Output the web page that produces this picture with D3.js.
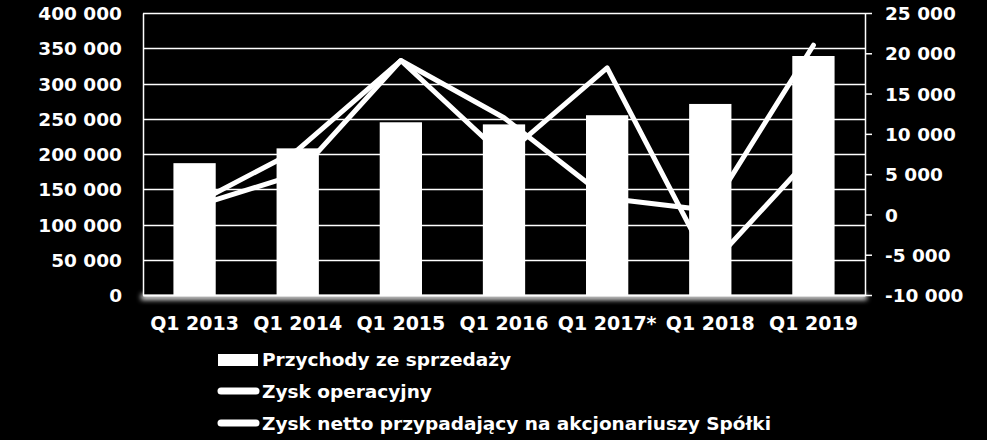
<!DOCTYPE html>
<html>
<head>
<meta charset="utf-8">
<script src="https://cdn.jsdelivr.net/npm/d3@7"></script>
<style>
  html, body { margin: 0; padding: 0; background: #000; }
  svg { display: block; }
  text { font-family: "DejaVu Sans", Verdana, sans-serif; font-weight: bold; fill: #fff; }
</style>
</head>
<body>
<svg id="chart" width="987" height="440"></svg>
<script>
const categories = ['Q1 2013', 'Q1 2014', 'Q1 2015', 'Q1 2016', 'Q1 2017*', 'Q1 2018', 'Q1 2019'];
const przychody = [187000, 208000, 245000, 242000, 255000, 271000, 339000];
const zyskOperacyjny = [1000, 5000, 19100, 12000, 2000, 500, 21000];
const zyskNetto = [1300, 8000, 19100, 7200, 18200, -6400, 7500];
const leftTicks = [0, 50000, 100000, 150000, 200000, 250000, 300000, 350000, 400000];
const rightTicks = [-10000, -5000, 0, 5000, 10000, 15000, 20000, 25000];
const legendLabels = ['Przychody ze sprzedaży', 'Zysk operacyjny', 'Zysk netto przypadający na akcjonariuszy Spółki'];

const width = 987;
const height = 440;
const margin = { top: 13, right: 122, bottom: 145, left: 143 };
const plotW = width - margin.left - margin.right;
const plotH = height - margin.top - margin.bottom;

const svg = d3.select('#chart');
const fmt = v => d3.format(',')(v).replace(/,/g, ' ').replace('−', '-');

const x = d3.scaleBand().domain(categories).range([margin.left, margin.left + plotW]).padding(0);
const yLeft = d3.scaleLinear().domain([0, 400000]).range([margin.top + plotH, margin.top]);
const yRight = d3.scaleLinear().domain([-10000, 25000]).range([margin.top + plotH, margin.top]);

// soft white glow under the plot area
const defs = svg.append('defs');
defs.append('filter').attr('id', 'glow').attr('x', '-5%').attr('y', '-200%').attr('width', '110%').attr('height', '500%')
  .append('feGaussianBlur').attr('stdDeviation', 2.5);
svg.append('rect')
  .attr('x', margin.left - 2)
  .attr('y', margin.top + plotH - 1)
  .attr('width', plotW + 4)
  .attr('height', 6)
  .attr('fill', '#ddd')
  .attr('filter', 'url(#glow)');
svg.append('rect')
  .attr('x', margin.left)
  .attr('y', margin.top)
  .attr('width', plotW)
  .attr('height', plotH)
  .attr('fill', '#000');

// gridlines
svg.append('g')
  .selectAll('line')
  .data(leftTicks)
  .enter()
  .append('line')
  .attr('x1', margin.left)
  .attr('x2', margin.left + plotW)
  .attr('y1', d => Math.round(yLeft(d)) + 0.5)
  .attr('y2', d => Math.round(yLeft(d)) + 0.5)
  .attr('stroke', '#fff')
  .attr('stroke-width', 1.5);

// bars
const barW = x.bandwidth() * 0.41;
svg.append('g')
  .selectAll('rect')
  .data(przychody)
  .enter()
  .append('rect')
  .attr('x', (d, i) => x(categories[i]) + x.bandwidth() / 2 - barW / 2)
  .attr('y', d => yLeft(d))
  .attr('width', barW)
  .attr('height', d => yLeft(0) - yLeft(d))
  .attr('fill', '#fff');

// lines
const line = d3.line()
  .x((d, i) => x(categories[i]) + x.bandwidth() / 2)
  .y(d => yRight(d));

[zyskOperacyjny, zyskNetto].forEach(series => {
  svg.append('path')
    .datum(series)
    .attr('d', line)
    .attr('fill', 'none')
    .attr('stroke', '#fff')
    .attr('stroke-width', 5)
    .attr('stroke-linejoin', 'round')
    .attr('stroke-linecap', 'round');
});

// axes
const leftAxis = d3.axisLeft(yLeft).tickValues(leftTicks).tickFormat(fmt).tickSize(0).tickPadding(21);
const gl = svg.append('g')
  .attr('transform', `translate(${margin.left},0)`)
  .call(leftAxis);
gl.select('.domain').attr('stroke', '#fff').attr('stroke-width', 1.5);
gl.selectAll('text').attr('font-size', '18.5px').attr('dy', '0.36em');

const rightAxis = d3.axisRight(yRight).tickValues(rightTicks).tickFormat(fmt).tickSize(7).tickSizeOuter(0).tickPadding(13);
const gr = svg.append('g')
  .attr('transform', `translate(${margin.left + plotW},0)`)
  .call(rightAxis);
gr.select('.domain').attr('stroke', '#fff').attr('stroke-width', 1.5);
gr.selectAll('line').attr('stroke', '#fff').attr('stroke-width', 1.5);
gr.selectAll('text').attr('font-size', '18.5px').attr('dy', '0.36em');

const bottomAxis = d3.axisBottom(x).tickSize(0).tickPadding(0);
const gb = svg.append('g')
  .attr('transform', `translate(0,${margin.top + plotH})`)
  .call(bottomAxis);
gb.select('.domain').attr('stroke', '#fff').attr('stroke-width', 2);
gb.selectAll('text').attr('font-size', '19px').attr('y', 35).attr('dy', 0);

// legend
const legend = svg.append('g').attr('transform', 'translate(218, 0)');
const rowY = [366, 398, 430];
legendLabels.forEach((label, i) => {
  if (i === 0) {
    legend.append('rect')
      .attr('x', 0)
      .attr('y', rowY[i] - 12)
      .attr('width', 40)
      .attr('height', 12)
      .attr('fill', '#fff');
  } else {
    legend.append('line')
      .attr('x1', 3)
      .attr('x2', 38)
      .attr('y1', rowY[i] - 7)
      .attr('y2', rowY[i] - 7)
      .attr('stroke', '#fff')
      .attr('stroke-width', 7)
      .attr('stroke-linecap', 'round');
  }
  legend.append('text')
    .attr('x', 44)
    .attr('y', rowY[i])
    .attr('font-size', '18.5px')
    .text(label);
});
</script>
</body>
</html>
